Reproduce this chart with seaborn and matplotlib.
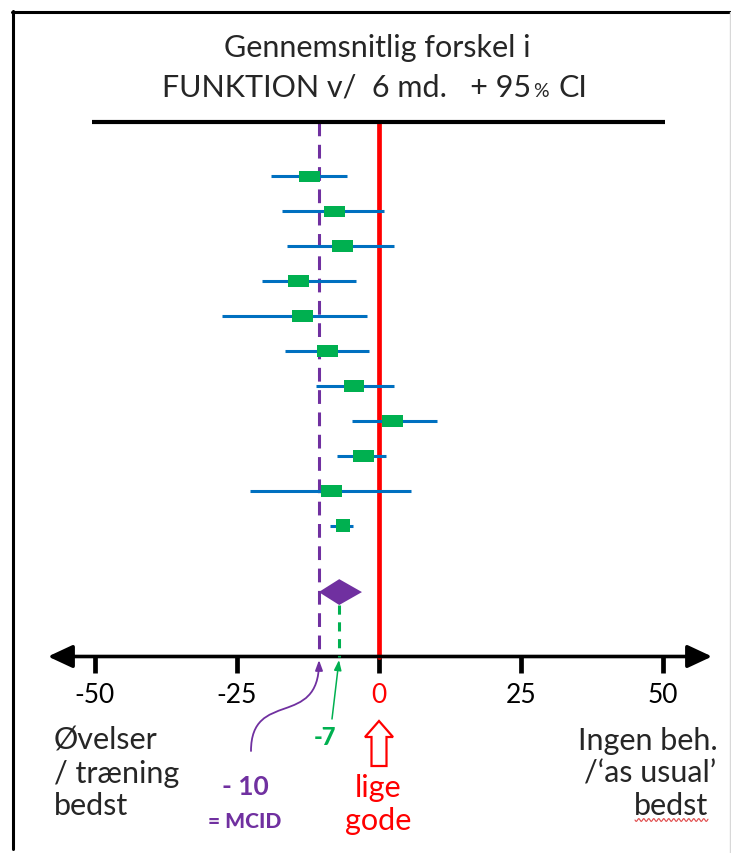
import numpy as np
import matplotlib.pyplot as plt
import seaborn as sns
from matplotlib.path import Path
from matplotlib.patches import FancyArrowPatch, FancyArrow

# mean difference in FUNKTION after 6 months, one row per study
study = np.arange(11)
mean_diff = [-12.3, -7.9, -6.5, -14.2, -13.5, -9.1, -4.4, 2.3, -2.8, -8.4, -6.4]
ci_low = [-19.0, -17.1, -16.2, -20.6, -27.7, -16.5, -11.1, -4.8, -7.4, -22.7, -8.6]
ci_high = [-5.6, 0.9, 2.6, -4.0, -2.1, -1.7, 2.6, 10.2, 1.2, 5.6, -4.6]

# pooled estimate (diamond)
pooled_mean = -7.0
pooled_low = -10.6
pooled_high = -3.0
pooled_row = 11.9

mcid = -10.5
ticks = [-50, -25, 0, 25, 50]

purple = '#7030A0'
green = '#00B050'
blue = '#0070C0'
red = '#FF0000'


# pixel (from top-left) -> data units
def X(px):
    return (px - 379) / 5.68


def Y(py):
    return (py - 177.4) / 34.93


sns.set_theme(style='white')
plt.rcParams['font.family'] = ['Lato', 'DejaVu Sans']

fig = plt.figure(figsize=(7.31, 8.54), dpi=100)
ax = fig.add_axes([0, 0, 1, 1])
ax.set_xlim(X(0), X(731))
ax.set_ylim(Y(854), Y(0))

axis_y = Y(657.5)
top_y = Y(123)

# x axis at the bottom of the forest plot
for s in ['left', 'right', 'top']:
    ax.spines[s].set_visible(False)
ax.spines['bottom'].set_position(('data', axis_y))
ax.spines['bottom'].set_visible(False)
ax.set_yticks([])
ax.set_xticks(ticks)
ax.set_xticklabels([str(t) for t in ticks])
ax.tick_params(axis='x', bottom=True, direction='out', length=11.5, width=3.4,
               color='black', pad=7, labelsize=19, labelcolor='black')
ax.get_xticklabels()[2].set_color(red)

ax.add_patch(FancyArrowPatch((X(48), axis_y), (X(712), axis_y),
                             arrowstyle='<|-|>,head_length=15,head_width=7',
                             mutation_scale=1, lw=2.6, color='black',
                             shrinkA=0, shrinkB=0, zorder=2))

# header line and reference lines
ax.plot([X(92), X(665)], [top_y, top_y], color='black', lw=3, solid_capstyle='butt')
ax.plot([0, 0], [top_y, axis_y], color=red, lw=3.4, zorder=1)
ax.plot([mcid, mcid], [top_y, axis_y], color=purple, lw=2.2, ls=(0, (4.5, 2.8)), zorder=1)

# confidence intervals and point estimates
ax.hlines(study, ci_low, ci_high, color=blue, lw=2.2, zorder=3)
rect = Path([(-1, -0.55), (1, -0.55), (1, 0.55), (-1, 0.55), (-1, -0.55)])
sq = Path([(-1, -0.93), (1, -0.93), (1, 0.93), (-1, 0.93), (-1, -0.93)])
sns.scatterplot(x=mean_diff[:10], y=study[:10], marker=rect, s=228, color=green,
                edgecolor='none', linewidth=0, zorder=4, ax=ax)
sns.scatterplot(x=mean_diff[10:], y=study[10:], marker=sq, s=102, color=green,
                edgecolor='none', linewidth=0, zorder=4, ax=ax)

# pooled diamond
h = 0.37
ax.fill([pooled_low, pooled_mean, pooled_high, pooled_mean],
        [pooled_row, pooled_row - h, pooled_row, pooled_row + h],
        color=purple, lw=0, zorder=4)
ax.plot([pooled_mean, pooled_mean], [pooled_row + h, axis_y], color=green, lw=2.2,
        ls=(0, (3, 2.5)), zorder=3)

# title
ax.text(X(377), Y(57), 'Gennemsnitlig forskel i', ha='center', va='baseline', fontsize=22)
ax.text(X(531), Y(97), 'FUNKTION v/  6 md.   + 95', ha='right', va='baseline', fontsize=22)
ax.text(X(533), Y(97), '%', ha='left', va='baseline', fontsize=14)
ax.text(X(558), Y(97), 'CI', ha='left', va='baseline', fontsize=22)

# side labels
for line, yb in zip(['Øvelser', '/ træning', 'bedst'], [750, 783, 815]):
    ax.text(X(54), Y(yb), line, ha='left', va='baseline', fontsize=22)
for line, xr, yb in zip(['Ingen beh.', '/‘as usual’', 'bedst'], [718, 716, 708], [750, 783, 815]):
    ax.text(X(xr), Y(yb), line, ha='right', va='baseline', fontsize=22)
wx = np.linspace(635, 708, 150)
ax.plot(X(wx), Y(821 + 1.4 * np.sin(2 * np.pi * wx / 5)), color='#E04848', lw=0.8)

# annotations for -7, MCID and 0
ax.text(X(325), Y(745), '-7', ha='center', va='baseline', fontsize=17,
        fontweight='black', color=green)
ax.text(X(245), Y(795), '- 10', ha='center', va='baseline', fontsize=19,
        fontweight='bold', color=purple)
ax.text(X(245), Y(828), '= MCID', ha='center', va='baseline', fontsize=15,
        fontweight='black', color=purple)
ax.text(X(378), Y(797), 'lige', ha='center', va='baseline', fontsize=22, color=red)
ax.text(X(378), Y(830), 'gode', ha='center', va='baseline', fontsize=22, color=red)

curve = Path([(X(251), Y(752)), (X(251), Y(690)), (X(319), Y(730)), (X(319), Y(661))],
             [Path.MOVETO, Path.CURVE4, Path.CURVE4, Path.CURVE4])
ax.add_patch(FancyArrowPatch(path=curve, arrowstyle='-|>,head_length=6,head_width=2.2',
                             color=purple, lw=1.3, zorder=5))
ax.add_patch(FancyArrowPatch((X(332), Y(720)), (X(339), Y(661)),
                             arrowstyle='-|>,head_length=6,head_width=2.2',
                             mutation_scale=1, color=green, lw=1.1,
                             shrinkA=0, shrinkB=0, zorder=5))
ax.add_patch(FancyArrow(0, Y(767), 0, Y(722) - Y(767), width=15 / 5.68,
                        head_width=28 / 5.68, head_length=16 / 34.93,
                        length_includes_head=True, facecolor='white',
                        edgecolor=red, lw=1.6, zorder=5))

# frame
ax.plot([X(13), X(13)], [Y(12), Y(850)], color='black', lw=2.2, clip_on=False)
ax.plot([X(12), X(731)], [Y(13), Y(13)], color='black', lw=2.2, clip_on=False)
ax.plot([X(730), X(730)], [Y(13), Y(854)], color='#d8d8d8', lw=1, clip_on=False)

fig.savefig('out.png', dpi=100)
